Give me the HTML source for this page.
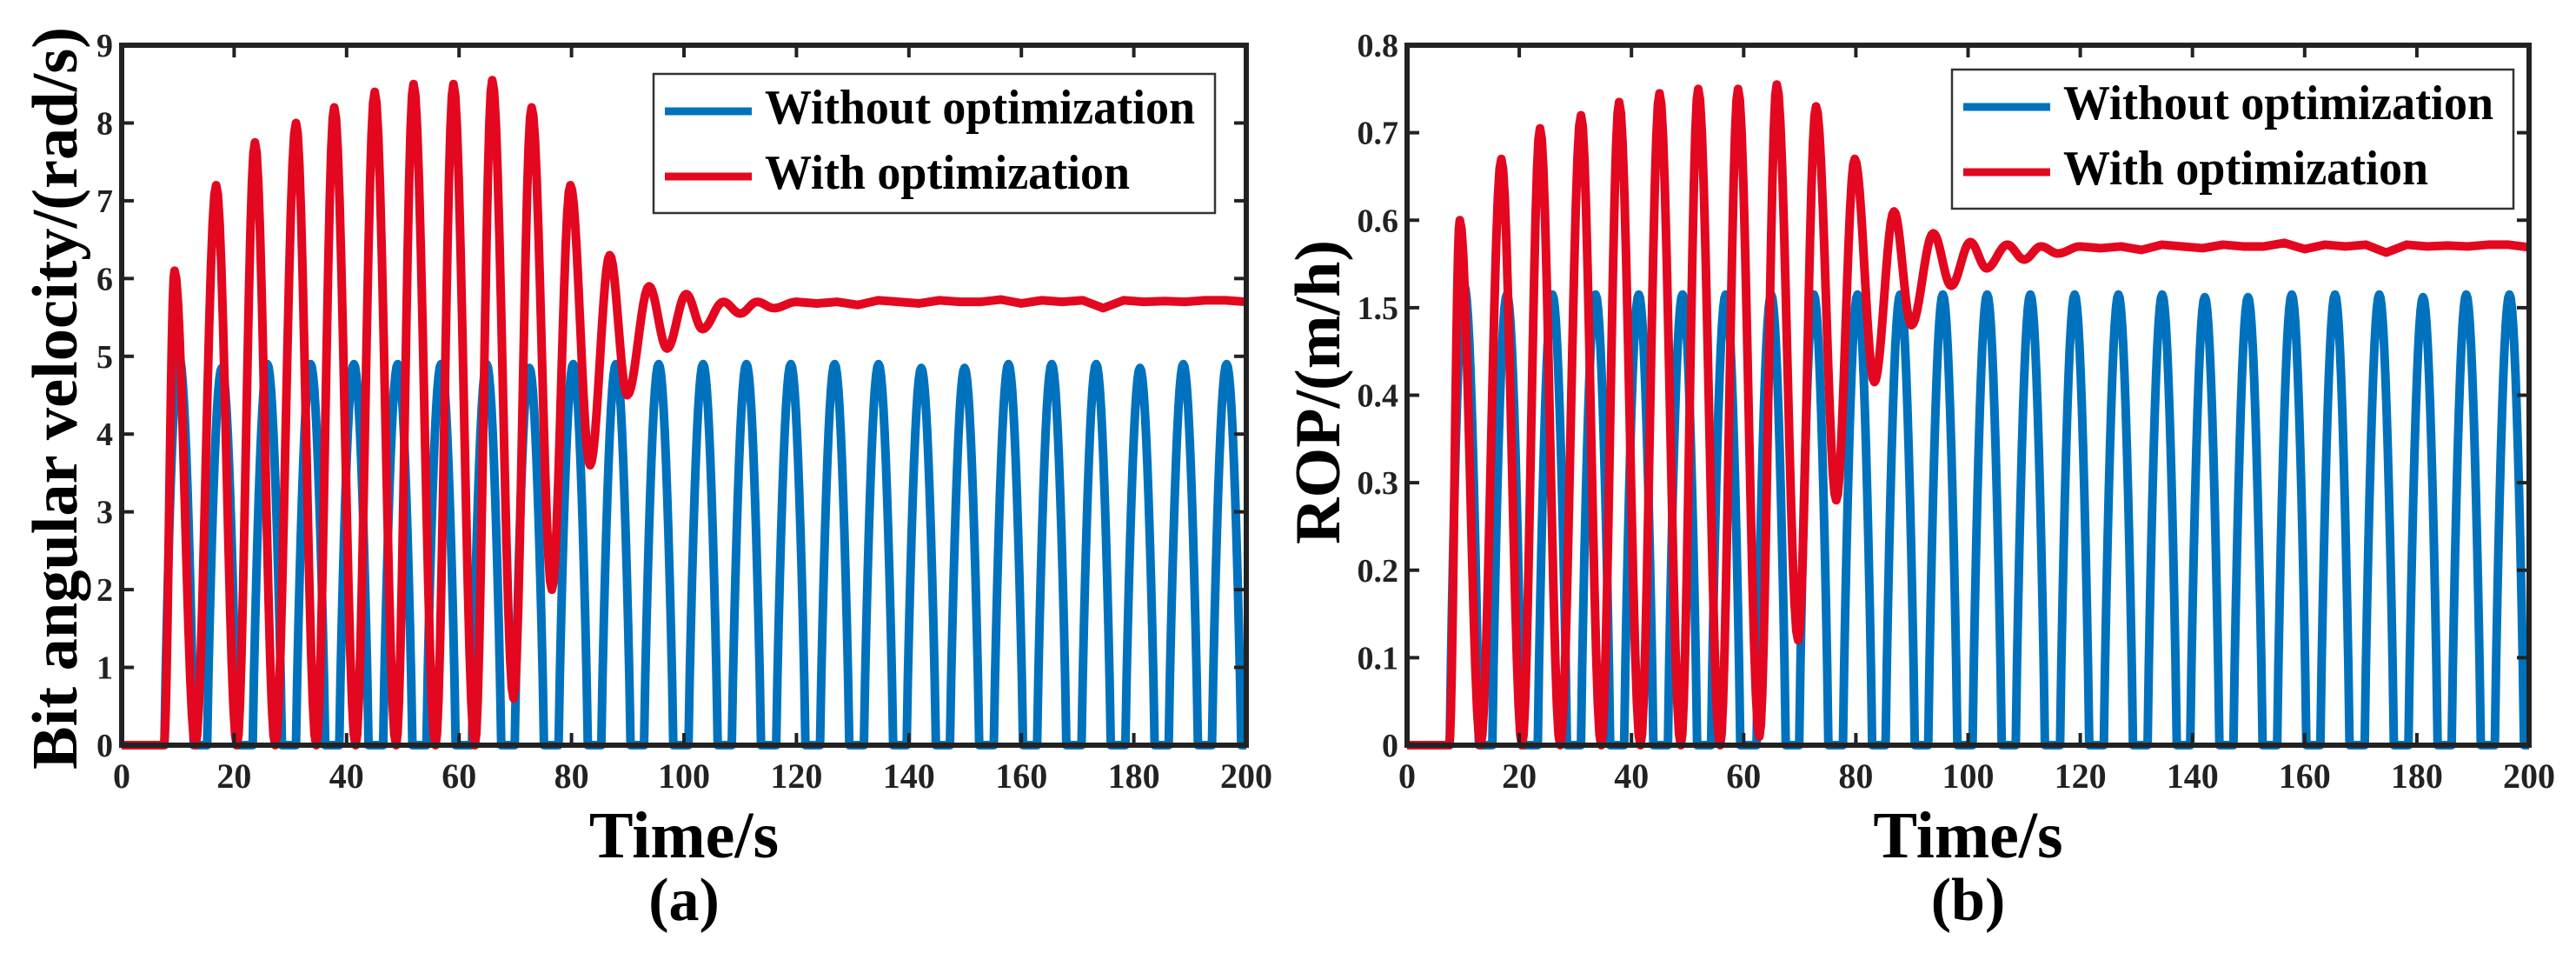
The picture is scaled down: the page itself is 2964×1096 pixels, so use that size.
<!DOCTYPE html>
<html><head><meta charset="utf-8"><style>
html,body{margin:0;padding:0;background:#fff;}
svg{display:block;font-family:"Liberation Serif",serif;font-weight:bold;}
</style></head><body>
<svg id="fig" width="2964" height="1096" viewBox="0 0 2964 1096" xmlns="http://www.w3.org/2000/svg"></svg>
<script>
// ---- shared data ----
const xTicks = [0,20,40,60,80,100,120,140,160,180,200];
const blueCenters = [10.2,17.8,25.9,33.6,41.3,49.1,56.8,64.9,72.5,80.3,87.9,95.5,103.4,111.1,119.0,126.8,134.6,142.2,149.9,157.7,165.4,173.3,181.1,188.8,196.5];
const redExtT = [7.5,9.4,13.1,16.8,20.5,23.7,27.3,31.0,34.6,37.8,41.6,45.0,48.8,51.9,55.8,59.0,62.8,65.9,69.7,72.9,76.5,79.8,83.3,86.8,89.9,93.8,97.0,100.4,103.3,107.0,110,113,116,120];
// chart (a)
const aYTicks = [0,1,2,3,4,5,6,7,8,9];
const aYLabels = ["0","1","2","3","4","5","6","7","8","9"];
const aBluePeaks = [5.0,4.85,4.9,4.9,4.9,4.9,4.9,4.9,4.85,4.9,4.9,4.9,4.9,4.9,4.9,4.9,4.9,4.85,4.85,4.9,4.9,4.9,4.85,4.9,4.9];
const aRedExtV = [0,6.1,0,7.2,0,7.75,0,8.0,0,8.2,0,8.4,0,8.5,0,8.5,0,8.55,0.6,8.2,2.0,7.2,3.6,6.3,4.5,5.9,5.1,5.8,5.35,5.7,5.55,5.7,5.62,5.7];
const aRedTail = [5.68,5.7,5.66,5.72,5.7,5.68,5.72,5.7,5.7,5.73,5.68,5.72,5.7,5.72,5.62,5.72,5.7,5.71,5.7,5.72,5.72,5.7];
// chart (b)
const bYTicks = [0,0.1,0.2,0.3,0.4,0.5,0.6,0.7,0.8];
const bYLabels = ["0","0.1","0.2","0.3","0.4","1.5","0.6","0.7","0.8"];
const bBluePeaks = [0.525,0.515,0.515,0.515,0.515,0.515,0.515,0.515,0.515,0.515,0.515,0.515,0.515,0.515,0.515,0.515,0.515,0.512,0.512,0.515,0.515,0.515,0.512,0.515,0.515];
const bRedExtV = [0,0.6,0,0.67,0,0.705,0,0.72,0,0.735,0,0.745,0,0.75,0,0.75,0.01,0.755,0.12,0.73,0.28,0.67,0.415,0.61,0.48,0.585,0.525,0.575,0.545,0.572,0.555,0.57,0.562,0.57];
const bRedTail = [0.568,0.57,0.566,0.572,0.57,0.568,0.572,0.57,0.57,0.574,0.567,0.572,0.57,0.572,0.563,0.572,0.57,0.571,0.57,0.572,0.572,0.569];

const NS="http://www.w3.org/2000/svg";
const svg=document.getElementById('fig');
function mk(tag,attrs,parent){const e=document.createElementNS(NS,tag);for(const k in attrs)e.setAttribute(k,attrs[k]);(parent||svg).appendChild(e);return e;}

function drawChart(cfg){
  const g=mk('g',{});
  
  
  const X0=cfg.x0,X1=cfg.x1,Y0=857,Y1=52;
  const ymax=cfg.yTicks[cfg.yTicks.length-1];
  const sx=t=>X0+(t/200)*(X1-X0);
  const sy=v=>Y0-(v/ymax)*(Y0-Y1);
  let d=`M${sx(0)},${sy(0)}`;
  const w=5.2;
  blueCenters.forEach((c,i)=>{
    const s=c-w/2;
    d+=` L${sx(s)},${sy(0)}`;
    for(let k=1;k<=24;k++){const t=s+w*k/24;if(t>200)break;const u=k/24;const sh=Math.pow(Math.sin(Math.PI*u),0.85);d+=` L${sx(t)},${sy(cfg.bluePeaks[i]*sh)}`;}
  });
  const last=blueCenters[blueCenters.length-1]+w/2;
  if(last<200)d+=` L${sx(200)},${sy(0)}`;
  const blue=mk('path',{d,fill:'none',stroke:'#0072bd','stroke-width':10,'stroke-linejoin':'round'},g);
  
  
  let r=`M${sx(0)},${sy(0)} L${sx(redExtT[0])},${sy(cfg.redV[0])}`;
  for(let i=1;i<redExtT.length;i++){
    const t0=redExtT[i-1],t1=redExtT[i],v0=cfg.redV[i-1],v1=cfg.redV[i];
    for(let k=1;k<=12;k++){const f=(1-Math.cos(Math.PI*k/12))/2;r+=` L${sx(t0+(t1-t0)*k/12)},${sy(v0+(v1-v0)*f)}`;}
  }
  const tStart=redExtT[redExtT.length-1];
  cfg.redTail.forEach((v,i)=>{const t=tStart+(200-tStart)*(i+1)/cfg.redTail.length;r+=` L${sx(t)},${sy(v)}`;});
  const red=mk('path',{d:r,fill:'none',stroke:'#e3071f','stroke-width':10,'stroke-linejoin':'round'},g);
  
  
  const box=mk('rect',{x:X0,y:Y1,width:X1-X0,height:Y0-Y1,fill:'none',stroke:'#222','stroke-width':6},g);
  
  
  xTicks.forEach(t=>{
    mk('line',{x1:sx(t),y1:Y0,x2:sx(t),y2:Y0-14,stroke:'#222','stroke-width':4},g);
    mk('line',{x1:sx(t),y1:Y1,x2:sx(t),y2:Y1+14,stroke:'#222','stroke-width':4},g);
    const tl=mk('text',{x:sx(t),y:906,'text-anchor':'middle','font-size':40,fill:'#222'},g);
    tl.textContent=t;
    
    
  });
  cfg.yTicks.forEach((v,i)=>{
    mk('line',{x1:X0,y1:sy(v),x2:X0+14,y2:sy(v),stroke:'#222','stroke-width':4},g);
    mk('line',{x1:X1,y1:sy(v),x2:X1-14,y2:sy(v),stroke:'#222','stroke-width':4},g);
    const tl=mk('text',{x:X0-10,y:sy(v)+13,'text-anchor':'end','font-size':38,fill:'#222'},g);
    tl.textContent=cfg.yLabels[i];
    
    
  });
  const yt=mk('text',{x:0,y:0,transform:`translate(${cfg.ytX},${cfg.ytY}) rotate(-90)`,'text-anchor':'middle','font-size':74,fill:'#000',textLength:cfg.ytLen,lengthAdjust:'spacingAndGlyphs'},g);
  yt.textContent=cfg.yTitle;
  
  
  const xt=mk('text',{x:(X0+X1)/2,y:986,'text-anchor':'middle','font-size':76,fill:'#000'},g);
  xt.textContent='Time/s';
  
  
  const cap=mk('text',{x:(X0+X1)/2,y:1058,'text-anchor':'middle','font-size':70,fill:'#000'},g);
  cap.textContent=cfg.caption;
  
  
  const L=cfg.lx;
  const lg=mk('g',{},g);
  
  
  mk('rect',{x:L,y:cfg.ly,width:646,height:160,fill:'#fff',stroke:'#333','stroke-width':2.5},lg);
  const e1=mk('line',{x1:L+13,y1:cfg.ly+43,x2:L+113,y2:cfg.ly+43,stroke:'#0072bd','stroke-width':9},lg);
  
  
  const t1=mk('text',{x:L+128,y:cfg.ly+57,'font-size':56,fill:'#000',textLength:495,lengthAdjust:'spacingAndGlyphs'},lg);
  t1.textContent='Without optimization';
  
  
  const e2=mk('line',{x1:L+13,y1:cfg.ly+118,x2:L+113,y2:cfg.ly+118,stroke:'#e3071f','stroke-width':9},lg);
  
  
  const t2=mk('text',{x:L+128,y:cfg.ly+132,'font-size':56,fill:'#000',textLength:420,lengthAdjust:'spacingAndGlyphs'},lg);
  t2.textContent='With optimization';
  
  
}
drawChart({name:'chart-a-bit-angular-velocity',x0:140,x1:1434,yTicks:aYTicks,yLabels:aYLabels,bluePeaks:aBluePeaks,redV:aRedExtV,redTail:aRedTail,yTitle:'Bit angular velocity/(rad/s)',ytX:88,ytY:458,ytLen:854,caption:'(a)',lx:752,ly:85});
drawChart({name:'chart-b-rop',x0:1619,x1:2910,yTicks:bYTicks,yLabels:bYLabels,bluePeaks:bBluePeaks,redV:bRedExtV,redTail:bRedTail,yTitle:'ROP/(m/h)',ytX:1541,ytY:451,ytLen:350,caption:'(b)',lx:2246,ly:80});
</script>
</body></html>
